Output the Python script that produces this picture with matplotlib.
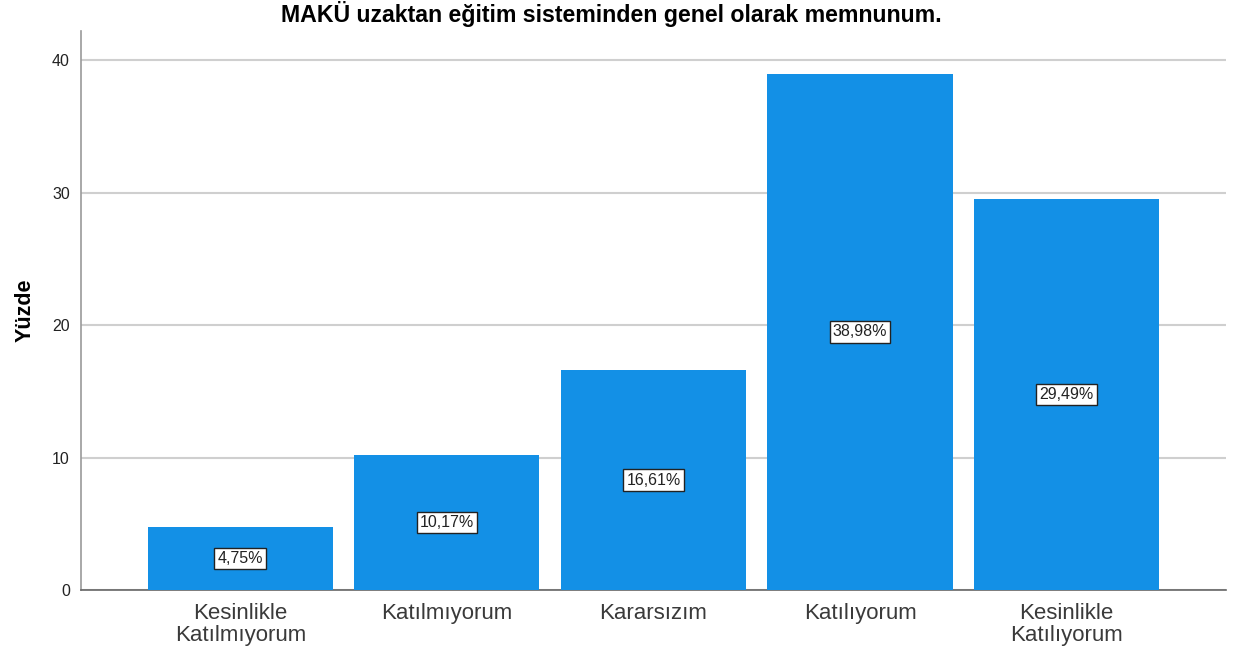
import matplotlib.pyplot as plt

categories = ["Kesinlikle\nKatılmıyorum", "Katılmıyorum", "Kararsızım",
              "Katılıyorum", "Kesinlikle\nKatılıyorum"]
percents = [4.75, 10.17, 16.61, 38.98, 29.49]
yticks = [0, 10, 20, 30, 40]

plt.rcParams['font.family'] = ['Liberation Sans', 'DejaVu Sans']

fig = plt.figure(figsize=(12.4, 6.58), dpi=100)
ax = fig.add_axes([0.0653, 0.1033, 0.9234, 0.8496])

x = range(len(categories))
bars = ax.bar(x, percents, width=0.896, color='#1390e6', zorder=3)

for b, v in zip(bars, percents):
    ax.text(b.get_x() + b.get_width() / 2, v / 2, f"{v:.2f}%".replace('.', ','),
            ha='center', va='center', fontsize=11.5, color='#222222', zorder=4,
            bbox=dict(boxstyle='square,pad=0.2', fc='white', ec='#222222', lw=1))

ax.set_xlim(-0.772, 4.772)
ax.set_ylim(0, 42.2)
ax.set_yticks(yticks)
ax.set_xticks(list(x))
ax.set_xticklabels(categories, fontsize=16, color='#3a3a3a', linespacing=1.08)
ax.tick_params(axis='y', length=0, labelsize=11.5, pad=8, colors='#222222')
ax.tick_params(axis='x', length=0, pad=9)
ax.yaxis.grid(True, color='#cfcfcf', lw=1.5, zorder=0)

for s in ['top', 'right']:
    ax.spines[s].set_visible(False)
ax.spines['left'].set_color('#9a9a9a')
ax.spines['left'].set_linewidth(1.2)
ax.spines['bottom'].set_color('#666666')
ax.spines['bottom'].set_linewidth(1.2)

ax.set_ylabel("Yüzde", fontsize=15.5, fontweight='bold', labelpad=12)
fig.text(0.493, 0.978, "MAKÜ uzaktan eğitim sisteminden genel olarak memnunum.",
         ha='center', va='center', fontsize=16.7, fontweight='bold')

fig.savefig("out.png", dpi=100)
